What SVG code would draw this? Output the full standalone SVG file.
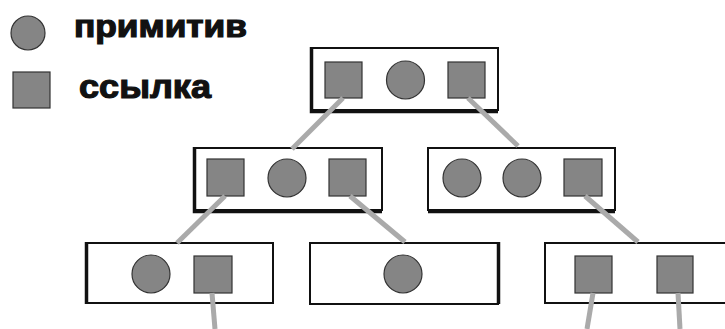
<svg xmlns="http://www.w3.org/2000/svg" width="725" height="329" viewBox="0 0 725 329">
<style>
.box{fill:#fff;stroke:#111;stroke-width:2}
.edge{stroke:#111;stroke-width:3.5;fill:none}
.ref{fill:#858585;stroke:#333;stroke-width:1.2}
.prim{fill:#858585;stroke:#333;stroke-width:1.2}
.conn{stroke:#aaa;stroke-width:5;fill:none}
.lbl{font-family:"Liberation Sans",Arial,sans-serif;font-weight:bold;fill:#111;stroke:#111;stroke-width:1.2}
</style>
<rect width="725" height="329" fill="#fff"/>
<g id="legend">
<circle class="prim" cx="28" cy="33" r="17"/>
<text class="lbl" x="74" y="37" font-size="31" textLength="173" lengthAdjust="spacingAndGlyphs">примитив</text>
<rect class="ref" x="13" y="72" width="37" height="36"/>
<text class="lbl" x="79" y="98" font-size="34" textLength="132" lengthAdjust="spacingAndGlyphs">ссылка</text>
</g>
<g id="node-top">
<rect class="box" x="311" y="48" width="187" height="62"/>
<path class="edge" d="M311.5 47v64.5H498"/>
<rect class="ref" x="325" y="62" width="37" height="36"/>
<circle class="prim" cx="405.5" cy="80" r="19"/>
<rect class="ref" x="448" y="62" width="37" height="36"/>
</g>
<g id="node-mid-left">
<rect class="box" x="194" y="148" width="188" height="62"/>
<path class="edge" d="M194.5 147v64.5H382"/>
<rect class="ref" x="207" y="159" width="37" height="37"/>
<circle class="prim" cx="287" cy="178" r="19"/>
<rect class="ref" x="329" y="159" width="37" height="37"/>
</g>
<g id="node-mid-right">
<rect class="box" x="428" y="148" width="187" height="62"/>
<path class="edge" d="M428 211.5H615"/>
<circle class="prim" cx="462" cy="178" r="19"/>
<circle class="prim" cx="522" cy="178" r="19"/>
<rect class="ref" x="564" y="159" width="38" height="37"/>
</g>
<g id="node-bot-left">
<rect class="box" x="86" y="243" width="187" height="60"/>
<path class="edge" d="M86.5 242v62"/>
<circle class="prim" cx="151" cy="274" r="19"/>
<rect class="ref" x="194" y="256" width="38" height="37"/>
</g>
<g id="node-bot-mid">
<rect class="box" x="310" y="243" width="188" height="61"/>
<path class="edge" d="M498.5 242v62"/>
<circle class="prim" cx="403" cy="274" r="19"/>
</g>
<g id="node-bot-right">
<rect class="box" x="545" y="243" width="190" height="60"/>
<rect class="ref" x="575" y="256" width="37" height="37"/>
<rect class="ref" x="657" y="256" width="36" height="37"/>
</g>
<g id="connectors">
<line class="conn" x1="343" y1="98" x2="292" y2="149"/>
<line class="conn" x1="468" y1="98" x2="518" y2="146"/>
<line class="conn" x1="225" y1="196" x2="177" y2="243"/>
<line class="conn" x1="350" y1="196" x2="405" y2="242"/>
<line class="conn" x1="585" y1="196" x2="638" y2="242"/>
<line class="conn" x1="212" y1="293" x2="215" y2="329"/>
<line class="conn" x1="593" y1="293" x2="587" y2="329"/>
<line class="conn" x1="678" y1="293" x2="680" y2="329"/>
</g>
</svg>
